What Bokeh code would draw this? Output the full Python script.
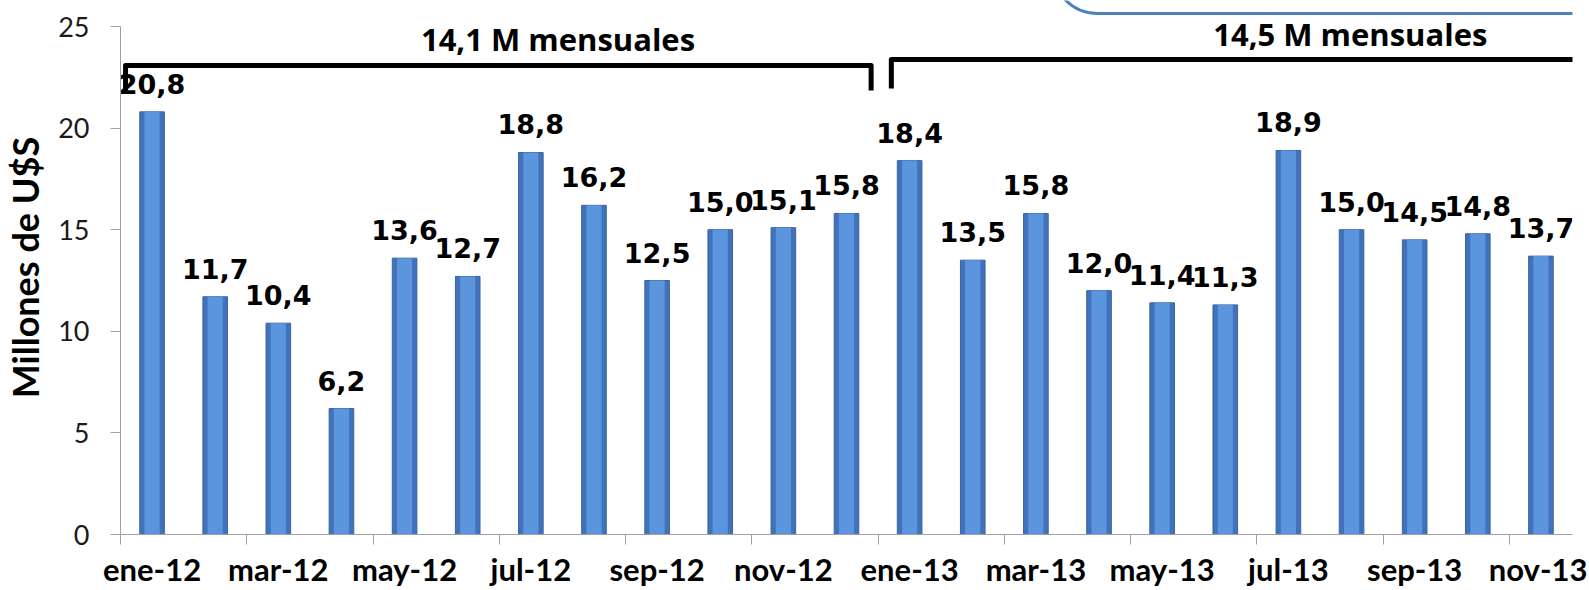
from bokeh.plotting import figure
from bokeh.models import FixedTicker, Range1d, BoxAnnotation
from bokeh.embed import file_html
from bokeh.resources import INLINE
from bokeh.core.properties import value

# ---- data -----------------------------------------------------------
months = ["ene-12", "feb-12", "mar-12", "abr-12", "may-12", "jun-12",
          "jul-12", "ago-12", "sep-12", "oct-12", "nov-12", "dic-12",
          "ene-13", "feb-13", "mar-13", "abr-13", "may-13", "jun-13",
          "jul-13", "ago-13", "sep-13", "oct-13", "nov-13"]
values = [20.8, 11.7, 10.4, 6.2, 13.6, 12.7, 18.8, 16.2, 12.5, 15.0, 15.1, 15.8,
          18.4, 13.5, 15.8, 12.0, 11.4, 11.3, 18.9, 15.0, 14.5, 14.8, 13.7]
group_sizes = [12, 11]
group_texts = ["14,1 M mensuales", "14,5 M mensuales"]
y_ticks = [0, 5, 10, 15, 20, 25]
y_title = "Millones de U$S"

# ---- figure ---------------------------------------------------------
n = len(months)
xs = list(range(n))
p = figure(width=1587, height=590,
           x_range=Range1d(-0.5, n - 0.5), y_range=Range1d(0, 26.28),
           output_backend="svg", toolbar_location=None,
           min_border_left=115, min_border_right=15,
           min_border_top=0, min_border_bottom=56)
p.outline_line_color = None
p.grid.visible = False
p.background_fill_color = "white"

AX = "#A0A0A0"

# x axis: labels on every other month, ticks at category boundaries
lab_idx = list(range(0, n, 2))
p.xaxis.ticker = FixedTicker(ticks=lab_idx, minor_ticks=[i - 0.5 for i in lab_idx])
p.xaxis.major_label_overrides = {i: months[i] for i in lab_idx}
p.xaxis.major_tick_line_color = None
p.xaxis.major_tick_out = 0
p.xaxis.major_tick_in = 0
p.xaxis.minor_tick_out = 10
p.xaxis.minor_tick_in = 0
p.xaxis.minor_tick_line_color = AX
p.xaxis.axis_line_color = AX
p.xaxis.major_label_text_font = "Lato"
p.xaxis.major_label_text_font_style = "bold"
p.xaxis.major_label_text_font_size = "31px"
p.xaxis.major_label_text_color = "black"
p.xaxis.major_label_standoff = 5

# y axis
p.yaxis.ticker = FixedTicker(ticks=y_ticks, minor_ticks=[])
p.yaxis.bounds = (0, 25)
p.yaxis.axis_line_color = AX
p.yaxis.major_tick_line_color = AX
p.yaxis.major_tick_out = 10
p.yaxis.major_tick_in = 0
p.yaxis.minor_tick_line_color = None
p.yaxis.major_label_text_font = "Lato"
p.yaxis.major_label_text_font_size = "27px"
p.yaxis.major_label_text_color = "#1a1a1a"
p.yaxis.major_label_standoff = 21
p.yaxis.axis_label = y_title
p.yaxis.axis_label_text_font = "Lato"
p.yaxis.axis_label_text_font_style = "bold"
p.yaxis.axis_label_text_font_size = "36px"
p.yaxis.axis_label_text_color = "black"
p.yaxis.axis_label_standoff = 8

# bars (darker rim + lighter core)
p.vbar(x=xs, top=values, width=0.39, bottom=0,
       fill_color="#4272BA", line_color="#3A64A3", line_width=1)
p.vbar(x=xs, top=values, width=0.24, bottom=0,
       fill_color="#5B95DE", line_color=None)

# value labels
labels = [f"{v:.1f}".replace(".", ",") for v in values]
p.text(x=xs, y=values, text=labels, text_align="center",
       text_baseline="alphabetic", y_offset=-28,
       text_font=value("DejaVu Sans"), text_font_style="bold",
       text_font_size="27px", text_color="black")

# rounded box at top right (partly outside the picture)
p.add_layout(BoxAnnotation(left=14.27, right=n + 1, bottom=25.64, top=30,
                           fill_color="white", fill_alpha=1,
                           line_color="#4F81BD", line_alpha=1, line_width=3,
                           border_radius=45))

# brackets with group averages
starts = [0, group_sizes[0]]
ends = [group_sizes[0] - 1, group_sizes[0] + group_sizes[1] - 1]
br_x = [[starts[0] - 0.42, starts[0] - 0.42, ends[0] + 0.39, ends[0] + 0.39],
        [starts[1] - 0.29, starts[1] - 0.29, ends[1] + 0.8]]
br_y = [[21.85, 23.08, 23.08, 21.85],
        [21.95, 23.38, 23.38]]
p.multi_line(xs=br_x, ys=br_y, line_color="black", line_width=5,
             line_join="round")

p.text(x=[6.43, 18.98], y=[24.37, 24.64], text=group_texts,
       text_align="center", text_baseline="alphabetic",
       text_font=value("Open Sans"), text_font_style="bold",
       text_font_size="31px", text_color="black")

open("out.html", "w").write(file_html(p, INLINE))
